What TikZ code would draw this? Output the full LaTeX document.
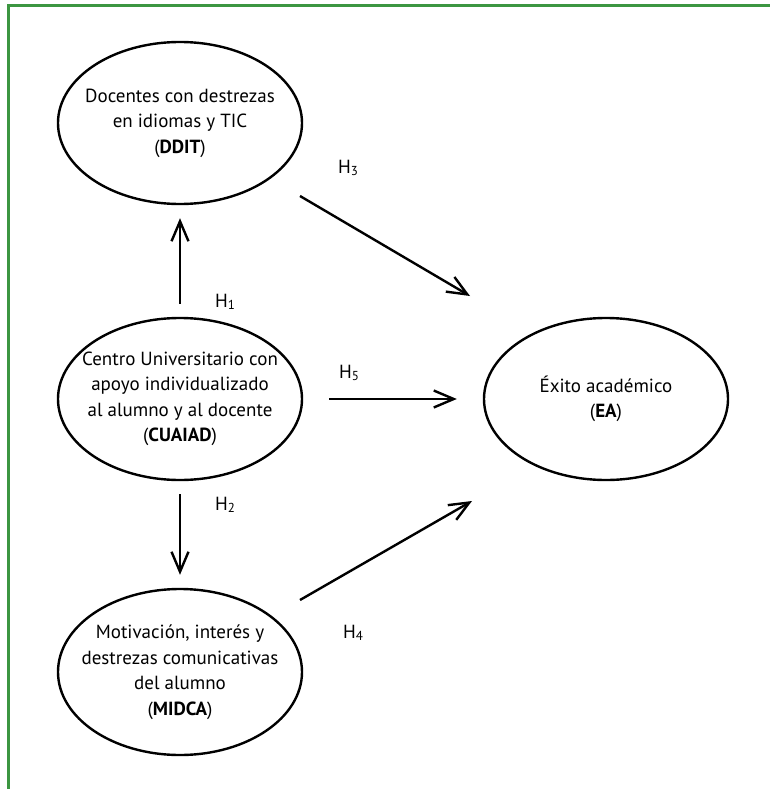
\documentclass[tikz,border=0pt]{standalone}
\usepackage{fontspec}
\setmainfont{PT Sans}
\usetikzlibrary{shapes.geometric,arrows.meta,calc}
\definecolor{framegreen}{RGB}{60,150,65}
\newcommand{\hsub}[1]{H\raisebox{-0.28ex}{\fontsize{13}{13}\selectfont #1}}
\begin{document}
\begin{tikzpicture}[x=1pt,y=-1pt,
  lat/.style={draw, line width=2.4pt, ellipse, minimum width=244pt, minimum height=162pt, inner sep=-60pt, align=center, font=\fontsize{19}{25.5}\selectfont},
  arr/.style={line width=2.4pt, -{Straight Barb[length=20pt,width=17pt]}},
  hl/.style={font=\fontsize{19}{25}\selectfont, inner sep=0pt, anchor=base west}]
\useasboundingbox (0,0) rectangle (770,789);
\fill[white] (0,0) rectangle (770,789);
\draw[framegreen, line width=3pt] (8,789) -- (8,6) -- (770,6);
% latent variables
\node[lat] (dd) at (180,123) {Docentes con destrezas\\en idiomas y TIC\\(\textbf{DDIT})};
\node[lat] (cu) at (180,399) {Centro Universitario con\\apoyo individualizado\\al alumno y al docente\\(\textbf{CUAIAD})};
\node[lat, minimum height=166pt] (mi) at (180,672) {Motivación, interés y\\destrezas comunicativas\\del alumno\\(\textbf{MIDCA})};
\node[lat] (ea) at (606,399) {Éxito académico\\(\textbf{EA})};
% connectors
\draw[arr, shorten <=13pt, shorten >=13pt] (cu) -- (dd);
\draw[arr, shorten <=13pt, shorten >=13pt] (cu) -- (mi);
\draw[arr, shorten <=26pt, shorten >=26pt] (cu) -- (ea);
\coordinate (h3a) at ($(dd)+(120,73)$);
\coordinate (h3b) at ($(ea)+(-136,-103)$);
\draw[arr] (h3a) -- (h3b);
\coordinate (h4a) at ($(mi)+(120,-72)$);
\coordinate (h4b) at ($(ea)+(-134,102)$);
\draw[arr] (h4a) -- (h4b);
% labels
\node[hl] (l1) at (215,307) {\hsub{1}};
\node[hl] (l2) at (215,510) {\hsub{2}};
\node[hl] (l3) at (338,173) {\hsub{3}};
\node[hl] (l4) at (343,638) {\hsub{4}};
\node[hl] (l5) at (339,378) {\hsub{5}};
\end{tikzpicture}
\end{document}
